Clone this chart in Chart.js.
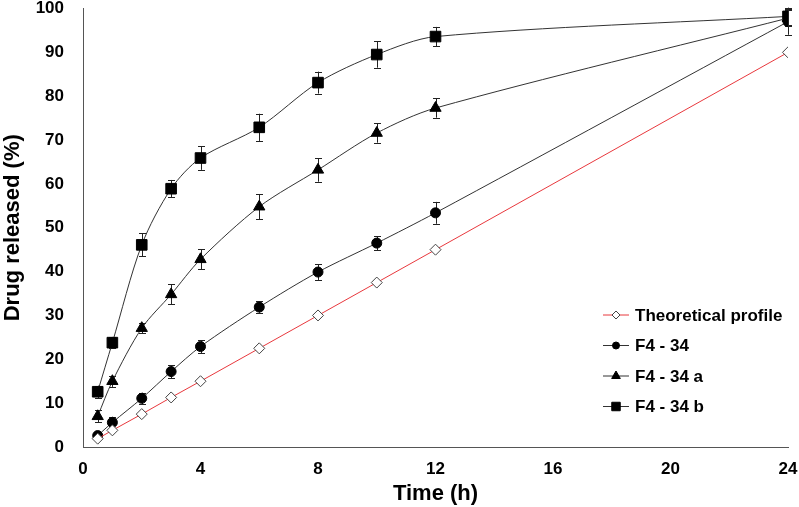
<!DOCTYPE html>
<html>
<head>
<meta charset="utf-8">
<script src="https://cdn.jsdelivr.net/npm/chart.js@4/dist/chart.umd.min.js"></script>
<style>
    html, body { margin: 0; padding: 0; background: #fff; }
    #wrap { width: 799px; height: 507px; position: relative; }
</style>
</head>
<body>
<div id="wrap"><canvas id="releaseChart"></canvas></div>
<script>
// 시간 (h)
const timeH = [0.5, 1, 2, 3, 4, 6, 8, 10, 12, 24];

// 방출량 (%)
const theoretical = [1.9, 3.8, 7.5, 11.3, 15, 22.5, 30, 37.5, 45, 90];
const f434 = [2.6, 5.6, 11.1, 17.2, 22.9, 31.9, 39.9, 46.5, 53.4, 97];
const f434a = [7.0, 15.0, 27.1, 34.8, 42.8, 54.8, 63.2, 71.6, 77.3, 97.8];
const f434b = [12.6, 23.8, 46.1, 58.9, 65.9, 72.9, 83.1, 89.5, 93.6, 98.2];

// 표준편차 (오차 막대)
const f434Sd = [0.6, 1.3, 1.3, 1.5, 1.5, 1.3, 1.8, 1.6, 2.5, 3.0];
const f434aSd = [1.4, 1.3, 1.2, 2.3, 2.3, 2.9, 2.7, 2.2, 2.2, 1.8];
const f434bSd = [1.4, 1.3, 2.6, 2.0, 2.7, 3.1, 2.5, 3.0, 2.2, 2.0];

const seriesNames = ['Theoretical profile', 'F4 - 34', 'F4 - 34 a', 'F4 - 34 b'];

const xTicks = [0, 4, 8, 12, 16, 20, 24];
const yTicks = [0, 10, 20, 30, 40, 50, 60, 70, 80, 90, 100];

const FONT = "'Liberation Sans', Arial, sans-serif";

function toPoints(values) {
    return timeH.map((t, i) => ({ x: t, y: values[i] }));
}

// 오차 막대 그리기
const errorBarPlugin = {
    id: 'errorBars',
    beforeDatasetsDraw(chart) {
        const ctx = chart.ctx;
        const xs = chart.scales.x;
        const ys = chart.scales.y;
        ctx.save();
        ctx.strokeStyle = '#222';
        ctx.lineWidth = 1;
        chart.data.datasets.forEach(ds => {
            if (!ds.sd) return;
            ds.data.forEach((p, i) => {
                const px = Math.round(xs.getPixelForValue(p.x)) + 0.5;
                const top = ys.getPixelForValue(p.y + ds.sd[i]);
                const bot = ys.getPixelForValue(p.y - ds.sd[i]);
                ctx.beginPath();
                ctx.moveTo(px, top);
                ctx.lineTo(px, bot);
                ctx.moveTo(px - 3.5, Math.round(top) + 0.5);
                ctx.lineTo(px + 3.5, Math.round(top) + 0.5);
                ctx.moveTo(px - 3.5, Math.round(bot) + 0.5);
                ctx.lineTo(px + 3.5, Math.round(bot) + 0.5);
                ctx.stroke();
            });
        });
        ctx.restore();
    }
};

// 범례 그리기 (차트 내부 오른쪽)
const insideLegendPlugin = {
    id: 'insideLegend',
    afterDraw(chart) {
        const ctx = chart.ctx;
        ctx.save();
        chart.data.datasets.forEach((ds, i) => {
            const y = 315 + i * 30.5;
            ctx.strokeStyle = ds.borderColor;
            ctx.lineWidth = 1;
            ctx.beginPath();
            ctx.moveTo(603, y);
            ctx.lineTo(629, y);
            ctx.stroke();
            ctx.fillStyle = ds.pointBackgroundColor;
            ctx.strokeStyle = ds.pointBorderColor;
            Chart.helpers.drawPoint(ctx, {
                pointStyle: ds.pointStyle,
                radius: ds.pointRadius - 1.5,
                borderWidth: 1
            }, 616, y);
            ctx.fillStyle = '#000';
            ctx.font = 'bold 17px ' + FONT;
            ctx.textAlign = 'left';
            ctx.textBaseline = 'middle';
            ctx.fillText(ds.label, 635, y + 1);
        });
        ctx.restore();
    }
};

const ctx = document.getElementById('releaseChart').getContext('2d');
const lineStyle = {
    borderColor: '#333',
    borderWidth: 1,
    pointBackgroundColor: '#000',
    pointBorderColor: '#000',
    pointBorderWidth: 1,
    tension: 0.3,
    fill: false
};

new Chart(ctx, {
    type: 'line',
    data: {
        datasets: [
            {
                label: seriesNames[0],
                data: toPoints(theoretical),
                borderColor: '#e8383d',
                borderWidth: 1,
                pointStyle: 'rectRot',
                pointRadius: 5.5,
                pointBackgroundColor: '#fff',
                pointBorderColor: '#444',
                pointBorderWidth: 1,
                tension: 0,
                fill: false
            },
            Object.assign({ label: seriesNames[1], data: toPoints(f434), sd: f434Sd, pointStyle: 'circle', pointRadius: 5 }, lineStyle),
            Object.assign({ label: seriesNames[2], data: toPoints(f434a), sd: f434aSd, pointStyle: 'triangle', pointRadius: 6.5 }, lineStyle),
            Object.assign({ label: seriesNames[3], data: toPoints(f434b), sd: f434bSd, pointStyle: 'rect', pointRadius: 7.5 }, lineStyle)
        ]
    },
    options: {
        responsive: true,
        maintainAspectRatio: false,
        animation: false,
        layout: { padding: { top: 7, right: 11, left: 0, bottom: 0 } },
        plugins: {
            legend: { display: false },
            tooltip: { enabled: false }
        },
        scales: {
            x: {
                type: 'linear',
                min: 0,
                max: 24,
                afterBuildTicks: scale => { scale.ticks = xTicks.map(v => ({ value: v })); },
                afterFit: scale => {
                    scale.height = 60;
                    scale.paddingLeft = 0;
                    scale.paddingRight = 0;
                },
                grid: { display: false, drawTicks: true, tickLength: 6, tickColor: '#555' },
                border: { color: '#555', width: 1 },
                ticks: {
                    color: '#000',
                    font: { family: FONT, size: 17, weight: 'bold' },
                    padding: 6,
                    maxRotation: 0
                },
                title: {
                    display: true,
                    text: 'Time (h)',
                    color: '#000',
                    font: { family: FONT, size: 22, weight: 'bold' },
                    padding: 0
                }
            },
            y: {
                min: 0,
                max: 100,
                afterBuildTicks: scale => { scale.ticks = yTicks.map(v => ({ value: v })); },
                afterFit: scale => {
                    scale.width = 83;
                    scale.paddingTop = 0;
                    scale.paddingBottom = 0;
                },
                grid: { display: false, drawTicks: true, tickLength: 8, tickColor: '#555' },
                border: { color: '#555', width: 1 },
                ticks: {
                    color: '#000',
                    font: { family: FONT, size: 17, weight: 'bold' },
                    padding: 11
                },
                title: {
                    display: true,
                    text: 'Drug released (%)',
                    color: '#000',
                    font: { family: FONT, size: 22, weight: 'bold' },
                    padding: 0
                }
            }
        }
    },
    plugins: [errorBarPlugin, insideLegendPlugin]
});
</script>
</body>
</html>
